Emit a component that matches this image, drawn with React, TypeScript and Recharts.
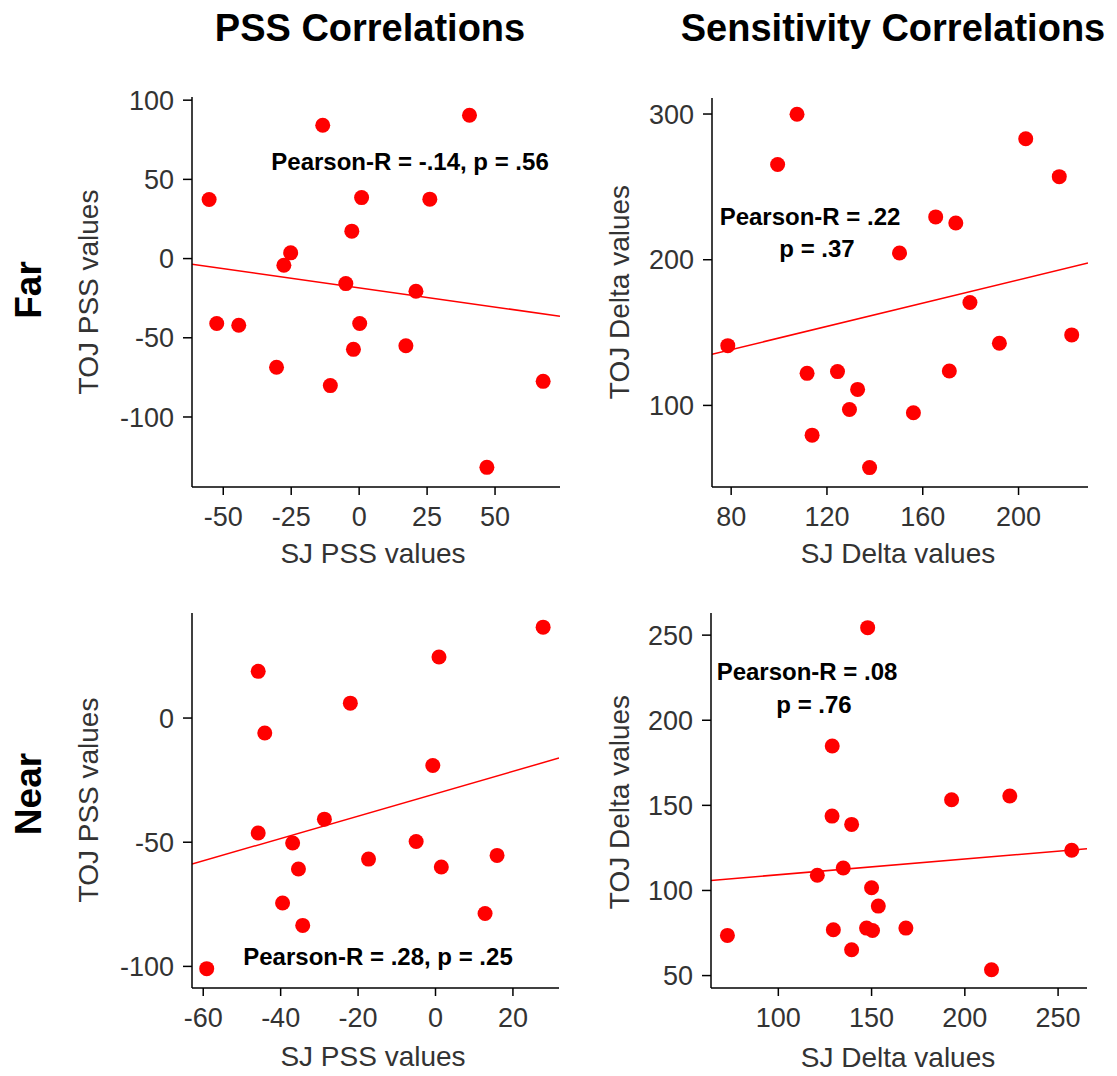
import React from 'react';
import { ScatterChart, Scatter, XAxis, YAxis, ReferenceLine } from 'recharts';

// Far - PSS (SJ vs TOJ)
const farPss = [
    { x: -55.2, y: 37.3 }, { x: -13.4, y: 84.2 }, { x: 40.6, y: 90.5 }, { x: 0.9, y: 38.5 },
    { x: 26, y: 37.5 }, { x: -2.7, y: 17.3 }, { x: -25.2, y: 3.6 }, { x: -27.7, y: -4.2 },
    { x: -4.9, y: -15.8 }, { x: 20.9, y: -20.6 }, { x: -52.4, y: -41 }, { x: -44.3, y: -42.1 },
    { x: 0.2, y: -41 }, { x: -2.1, y: -57.3 }, { x: 17.2, y: -55 }, { x: -30.4, y: -68.6 },
    { x: -10.6, y: -80.2 }, { x: 67.7, y: -77.5 }, { x: 47, y: -131.8 },
];
const farPssFit = [{ x: -61.5, y: -3.5 }, { x: 73.9, y: -36.4 }];

// Far - Delta
const farDelta = [
    { x: 107.5, y: 299.8 }, { x: 99.4, y: 265.4 }, { x: 203, y: 283 }, { x: 217, y: 257 },
    { x: 165.4, y: 229.4 }, { x: 173.8, y: 225.2 }, { x: 150.3, y: 204.6 }, { x: 78.6, y: 141 },
    { x: 179.7, y: 170.6 }, { x: 192, y: 142.7 }, { x: 222.2, y: 148.4 }, { x: 111.7, y: 122 },
    { x: 124.4, y: 123.2 }, { x: 171.1, y: 123.6 }, { x: 132.8, y: 111 }, { x: 129.4, y: 97.2 },
    { x: 156.1, y: 95 }, { x: 113.8, y: 79.6 }, { x: 137.8, y: 57.3 },
];
const farDeltaFit = [{ x: 72, y: 135.1 }, { x: 229, y: 197.7 }];

// Near - PSS
const nearPss = [
    { x: 27.8, y: 36.6 }, { x: 0.9, y: 24.6 }, { x: -45.8, y: 18.8 }, { x: -22, y: 6 },
    { x: -44.1, y: -6 }, { x: -0.7, y: -19.1 }, { x: -28.7, y: -40.7 }, { x: -45.8, y: -46.3 },
    { x: -36.9, y: -50.3 }, { x: -5, y: -49.7 }, { x: -17.3, y: -56.8 }, { x: 15.9, y: -55.3 },
    { x: -35.4, y: -60.8 }, { x: 1.5, y: -60 }, { x: -39.5, y: -74.5 }, { x: -34.3, y: -83.5 },
    { x: 12.8, y: -78.7 }, { x: -59.1, y: -100.9 },
];
const nearPssFit = [{ x: -62.9, y: -58.8 }, { x: 31.9, y: -16.1 }];

// Near - Delta
const nearDelta = [
    { x: 147.9, y: 254.4 }, { x: 128.9, y: 184.9 }, { x: 192.9, y: 153.3 }, { x: 224.1, y: 155.5 },
    { x: 128.8, y: 143.7 }, { x: 139.3, y: 138.8 }, { x: 257.3, y: 123.6 }, { x: 134.8, y: 113.2 },
    { x: 120.9, y: 108.9 }, { x: 150, y: 101.6 }, { x: 153.6, y: 90.8 }, { x: 72.7, y: 73.6 },
    { x: 129.5, y: 76.9 }, { x: 147.3, y: 77.9 }, { x: 150.5, y: 76.5 }, { x: 168.4, y: 77.9 },
    { x: 139.3, y: 65.2 }, { x: 214.3, y: 53.4 },
];
const nearDeltaFit = [{ x: 63.9, y: 105.9 }, { x: 265.5, y: 124.5 }];

const pssFarXTicks = [-50, -25, 0, 25, 50];
const pssFarYTicks = [-100, -50, 0, 50, 100];
const deltaFarXTicks = [80, 120, 160, 200];
const deltaFarYTicks = [100, 200, 300];
const pssNearXTicks = [-60, -40, -20, 0, 20];
const pssNearYTicks = [-100, -50, 0];
const deltaNearXTicks = [100, 150, 200, 250];
const deltaNearYTicks = [50, 100, 150, 200, 250];

const FONT = "'Liberation Sans', Arial, sans-serif";
const tickStyle = { fill: '#333', fontSize: 27, fontFamily: FONT };

const Dot = (p: any) => <circle cx={p.cx} cy={p.cy} r={7.5} fill="#ff0000" />;

interface PanelProps {
    left: number; top: number; width: number; height: number;
    margin: { top: number; right: number; left: number; bottom: number };
    yWidth: number; xHeight: number;
    data: { x: number; y: number }[];
    fit: { x: number; y: number }[];
    xDomain: [number, number]; yDomain: [number, number];
    xTicks: number[]; yTicks: number[];
}

const Panel: React.FC<PanelProps> = (p) => (
    <div style={{ position: 'absolute', left: p.left, top: p.top }}>
        <ScatterChart width={p.width} height={p.height} margin={p.margin}>
            <XAxis type="number" dataKey="x" domain={p.xDomain} ticks={p.xTicks} interval={0}
                allowDataOverflow height={p.xHeight} tickSize={8} tickMargin={12}
                axisLine={{ stroke: '#000', strokeWidth: 1.5 }} tickLine={{ stroke: '#000', strokeWidth: 1.5 }}
                tick={tickStyle} />
            <YAxis type="number" dataKey="y" domain={p.yDomain} ticks={p.yTicks} interval={0}
                allowDataOverflow width={p.yWidth} tickSize={9} tickMargin={9}
                axisLine={{ stroke: '#000', strokeWidth: 1.5 }} tickLine={{ stroke: '#000', strokeWidth: 1.5 }}
                tick={tickStyle} />
            <ReferenceLine segment={p.fit} stroke="#ff0000" strokeWidth={1.5} ifOverflow="hidden" />
            <Scatter data={p.data} fill="#ff0000" shape={Dot} isAnimationActive={false} />
        </ScatterChart>
    </div>
);

const Txt: React.FC<{ x: number; y: number; size: number; bold?: boolean; rotate?: boolean; color?: string; children: React.ReactNode }> =
    ({ x, y, size, bold, rotate, color, children }) => (
        <div style={{
            position: 'absolute', left: x, top: y, whiteSpace: 'nowrap',
            transform: `translate(-50%, -50%)${rotate ? ' rotate(-90deg)' : ''}`,
            fontFamily: FONT, fontSize: size, fontWeight: bold ? 'bold' : 'normal',
            color: color || '#333', lineHeight: 1,
        }}>{children}</div>
    );

export default function App() {
    return (
        <div style={{ position: 'absolute', left: 0, top: 0, width: 1117, height: 1076, background: '#fff', overflow: 'hidden' }}>
            <Panel left={100} top={60} width={480} height={520}
                margin={{ top: 37, right: 20, left: 0, bottom: 0 }} yWidth={92} xHeight={93}
                data={farPss} fit={farPssFit} xDomain={[-61.5, 73.9]} yDomain={[-144.2, 102]}
                xTicks={pssFarXTicks} yTicks={pssFarYTicks} />
            <Panel left={620} top={60} width={480} height={520}
                margin={{ top: 38, right: 12, left: 0, bottom: 0 }} yWidth={92} xHeight={93}
                data={farDelta} fit={farDeltaFit} xDomain={[72, 229]} yDomain={[44, 311]}
                xTicks={deltaFarXTicks} yTicks={deltaFarYTicks} />
            <Panel left={100} top={590} width={480} height={480}
                margin={{ top: 23, right: 21, left: 0, bottom: 0 }} yWidth={92} xHeight={82}
                data={nearPss} fit={nearPssFit} xDomain={[-62.9, 31.9]} yDomain={[-108.7, 42.3]}
                xTicks={pssNearXTicks} yTicks={pssNearYTicks} />
            <Panel left={620} top={590} width={480} height={480}
                margin={{ top: 23, right: 13, left: 0, bottom: 0 }} yWidth={91} xHeight={82}
                data={nearDelta} fit={nearDeltaFit} xDomain={[63.9, 265.5]} yDomain={[42.7, 263]}
                xTicks={deltaNearXTicks} yTicks={deltaNearYTicks} />

            <Txt x={370} y={28} size={38} bold color="#000">PSS Correlations</Txt>
            <Txt x={893} y={28} size={38} bold color="#000">Sensitivity Correlations</Txt>
            <Txt x={28} y={290} size={37} bold rotate color="#000">Far</Txt>
            <Txt x={28} y={794} size={37} bold rotate color="#000">Near</Txt>

            <Txt x={89} y={292} size={28} rotate>TOJ PSS values</Txt>
            <Txt x={373} y={554} size={28}>SJ PSS values</Txt>
            <Txt x={620} y={292} size={28} rotate>TOJ Delta values</Txt>
            <Txt x={898} y={554} size={28}>SJ Delta values</Txt>
            <Txt x={89} y={800} size={28} rotate>TOJ PSS values</Txt>
            <Txt x={373} y={1057} size={28}>SJ PSS values</Txt>
            <Txt x={620} y={802} size={28} rotate>TOJ Delta values</Txt>
            <Txt x={898} y={1058} size={28}>SJ Delta values</Txt>

            <Txt x={410} y={162} size={24} bold color="#000">Pearson-R = -.14, p = .56</Txt>
            <Txt x={810} y={217} size={24} bold color="#000">Pearson-R = .22</Txt>
            <Txt x={817} y={249} size={24} bold color="#000">p = .37</Txt>
            <Txt x={378} y={957} size={24} bold color="#000">Pearson-R = .28, p = .25</Txt>
            <Txt x={807} y={672} size={24} bold color="#000">Pearson-R = .08</Txt>
            <Txt x={814} y={705} size={24} bold color="#000">p = .76</Txt>
        </div>
    );
}
